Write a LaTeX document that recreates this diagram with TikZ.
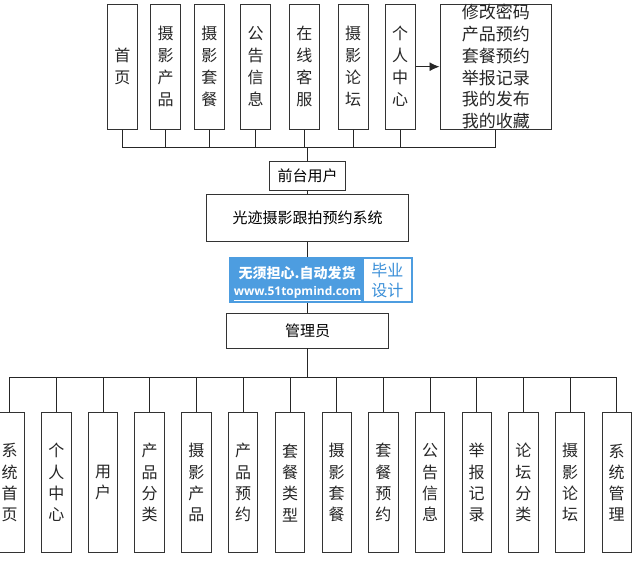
\documentclass[tikz,border=0pt]{standalone}
\usepackage{fontspec}
\newfontfamily\cjk{Noto Sans CJK SC}
\newfontfamily\urlf{Open Sans}
\usetikzlibrary{arrows.meta}
\definecolor{wmblue}{RGB}{77,157,224}
\definecolor{wmtext}{RGB}{58,143,216}
\begin{document}
\begin{tikzpicture}[x=1pt,y=-1pt,
  box/.style={draw=black!80, line width=0.9pt, fill=white, inner sep=0pt},
  vbox/.style={box, minimum width=30pt, minimum height=125pt, font=\cjk\fontsize{16}{22}\selectfont, align=center, text=black!85},
  bbox/.style={box, minimum width=29.5pt, minimum height=140pt, font=\cjk\fontsize{16}{21.3}\selectfont, align=center, text=black!85},
  hbox/.style={box, font=\cjk\fontsize{15}{18}\selectfont},
  conn/.style={draw=black!85, line width=0.9pt}]
\useasboundingbox (0,0) rectangle (643,562);
% top row
\node[vbox] (t1) at (122.3,66.7) {首\\页};
\node[vbox] (t2) at (165.7,66.7) {摄\\影\\产\\品};
\node[vbox] (t3) at (209.3,66.7) {摄\\影\\套\\餐};
\node[vbox] (t4) at (255.7,66.7) {公\\告\\信\\息};
\node[vbox] (t5) at (304.3,66.7) {在\\线\\客\\服};
\node[vbox] (t6) at (353.0,66.7) {摄\\影\\论\\坛};
\node[vbox] (t7) at (400.2,66.7) {个\\人\\中\\心};
\node[vbox, minimum width=111.7pt, font=\cjk\fontsize{17}{21.7}\selectfont] (t8) at (495.8,66.7)
  {修改密码\\产品预约\\套餐预约\\举报记录\\我的发布\\我的收藏};
\draw[conn,-{Latex[length=10pt,width=9pt]}] (t7.east) -- (t8.west);
% middle
\node[hbox, minimum width=75.7pt, minimum height=29.3pt] (qt) at (307.5,175.7) {前台用户};
\node[hbox, minimum width=202.7pt, minimum height=46.7pt] (sys) at (307.5,217.7) {光迹摄影跟拍预约系统};
\node[hbox, minimum width=161.6pt, minimum height=35pt] (adm) at (307.5,330.8) {管理员};
\foreach \i in {1,...,8} \draw[conn] (t\i.south) -- ++(0,18) -| (qt.north);
\draw[conn] (qt) -- (sys);
\draw[conn] (sys) -- (adm);
% watermark
\node[fill=wmblue, minimum width=183.4pt, minimum height=45.4pt, inner sep=0pt] (wm) at (321,280) {};
\node[fill=white, minimum width=46.7pt, minimum height=41.7pt, inner sep=0pt] (wmw) at (387.3,280.2) {};
\node[font=\cjk\bfseries\fontsize{14}{14}\selectfont, text=white, inner sep=0pt] (wm1) at (297.2,272.7) {无须担心.自动发货};
\node[font=\urlf\bfseries\fontsize{12}{12}\selectfont, text=white, inner sep=0pt] (wm2) at (297.5,293.3) {\underline{www.51topmind.com}};
\node[font=\cjk\fontsize{16}{16}\selectfont, text=wmtext, inner sep=0pt] (wm3) at (387.3,270) {毕业};
\node[font=\cjk\fontsize{16}{16}\selectfont, text=wmtext, inner sep=0pt] (wm4) at (387.3,290.5) {设计};
% bottom row
\node[bbox] (b1) at (9.65,482.7) {系\\统\\首\\页};
\node[bbox] (b2) at (56.35,482.7) {个\\人\\中\\心};
\node[bbox] (b3) at (103.0,482.7) {用\\户};
\node[bbox] (b4) at (149.65,482.7) {产\\品\\分\\类};
\node[bbox] (b5) at (196.35,482.7) {摄\\影\\产\\品};
\node[bbox] (b6) at (243.0,482.7) {产\\品\\预\\约};
\node[bbox] (b7) at (290.0,482.7) {套\\餐\\类\\型};
\node[bbox] (b8) at (336.7,482.7) {摄\\影\\套\\餐};
\node[bbox] (b9) at (383.3,482.7) {套\\餐\\预\\约};
\node[bbox] (b10) at (430.0,482.7) {公\\告\\信\\息};
\node[bbox] (b11) at (476.7,482.7) {举\\报\\记\\录};
\node[bbox] (b12) at (523.3,482.7) {论\\坛\\分\\类};
\node[bbox] (b13) at (570.0,482.7) {摄\\影\\论\\坛};
\node[bbox] (b14) at (616.7,482.7) {系\\统\\管\\理};
\foreach \i in {1,...,14} \draw[conn] (adm.south) -- ++(0,28.4) -| (b\i.north);
\end{tikzpicture}
\end{document}
